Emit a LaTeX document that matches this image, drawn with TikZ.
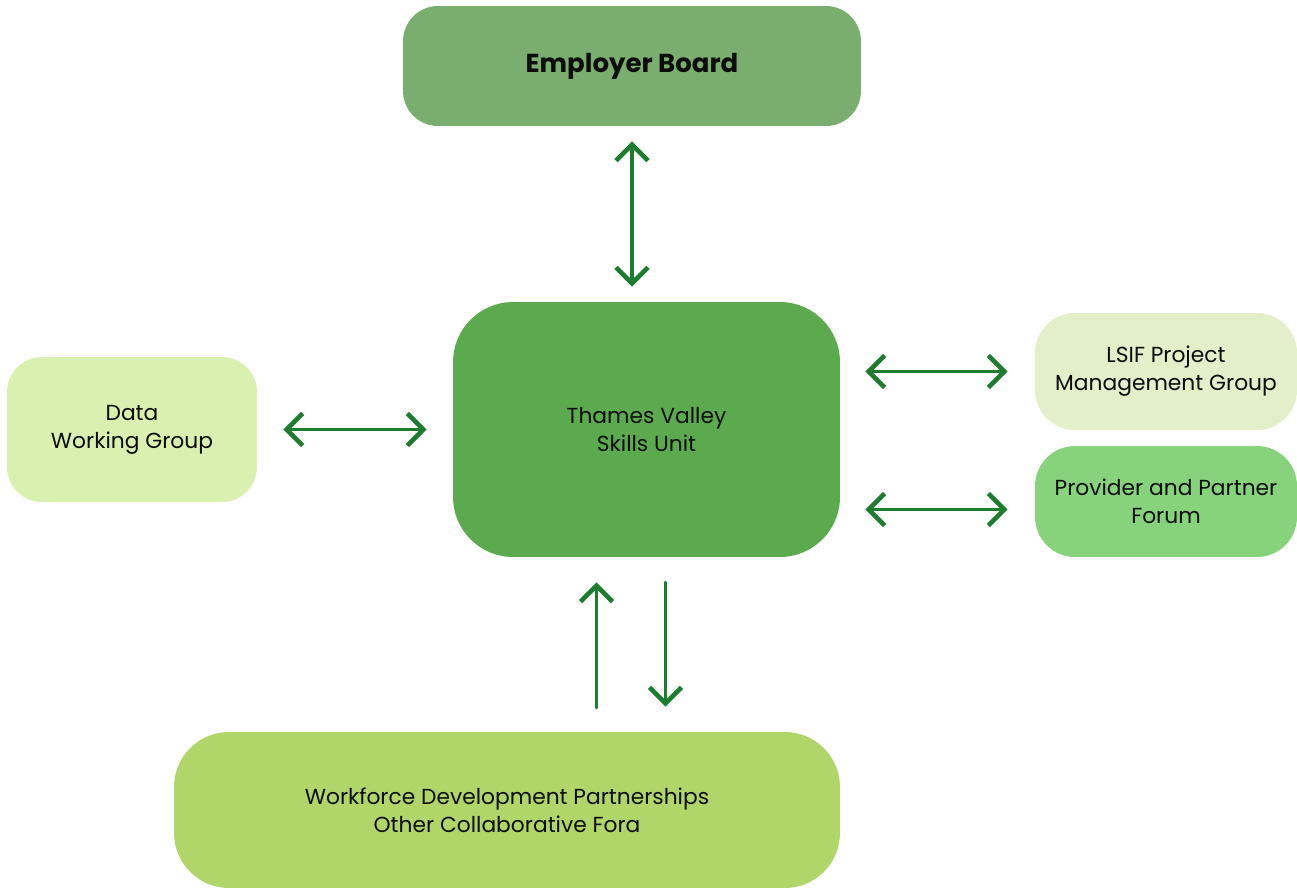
\documentclass[tikz,border=0pt]{standalone}
\usepackage{fontspec}
\setmainfont{Poppins}
\usetikzlibrary{arrows.meta}
\definecolor{boardgreen}{HTML}{79AE6F}
\definecolor{unitgreen}{HTML}{5BAA4E}
\definecolor{datagreen}{HTML}{D9F0B0}
\definecolor{lsifgreen}{HTML}{E2EFC9}
\definecolor{forumgreen}{HTML}{87D37C}
\definecolor{wdpgreen}{HTML}{B0D66A}
\definecolor{arrowgreen}{HTML}{1C7D2E}

\begin{document}
\begin{tikzpicture}[x=0.02cm,y=-0.02cm,
  box/.style={rounded corners=#1, align=center, inner sep=0pt, text=black!95,
    font=\fontsize{12.4}{16}\selectfont},
  box/.default=0.7cm,
  >={Straight Barb[length=3.2mm,width=6.4mm,line width=2.6pt]},
  link/.style={draw=arrowgreen, line width=2pt, line cap=round}]
\useasboundingbox (0,0) rectangle (1297,889);
% boxes
\node[box, fill=boardgreen, minimum width=9.16cm, minimum height=2.4cm,
  font=\fontsize{14.8}{16}\selectfont\bfseries] (board) at (632,66) {Employer Board};
\node[box=1.2cm, fill=unitgreen, minimum width=7.74cm, minimum height=5.1cm] (tvsu) at (646.5,429.5) {Thames Valley\\ Skills Unit};
\node[box, fill=datagreen, minimum width=5cm, minimum height=2.9cm] (dwg) at (132,429.5) {Data\\ Working Group};
\node[box=0.8cm, fill=lsifgreen, minimum width=5.24cm, minimum height=2.34cm] (lsif) at (1166,371.5) {LSIF Project\\ Management Group};
\node[box=0.8cm, fill=forumgreen, minimum width=5.24cm, minimum height=2.22cm] (ppf) at (1166,501.5) {Provider and Partner\\ Forum};
\node[box=1.1cm, fill=wdpgreen, minimum width=13.32cm, minimum height=3.12cm] (wdp) at (507,810) {Workforce Development Partnerships\\ Other Collaborative Fora};
% arrows
\draw[link, <->, shorten <=0.3cm, shorten >=0.3cm] (board.south) -- (board.south |- tvsu.north);
\draw[link, <->, shorten <=0.52cm, shorten >=0.52cm] (dwg.east) -- (tvsu.west);
\draw[link, <->, shorten <=0.5cm, shorten >=0.54cm] (tvsu.east |- lsif.west) -- (lsif.west);
\draw[link, <->, shorten <=0.5cm, shorten >=0.54cm] ([yshift=-0.16cm]tvsu.east |- ppf.west) -- ([yshift=-0.16cm]ppf.west);
\draw[link, ->, shorten <=0.48cm, shorten >=0.5cm] ([xshift=-1cm]tvsu.south |- wdp.north) -- ([xshift=-1cm]tvsu.south);
\draw[link, ->, shorten <=0.5cm, shorten >=0.5cm] ([xshift=0.38cm]tvsu.south) -- ([xshift=0.38cm]tvsu.south |- wdp.north);
\end{tikzpicture}
\end{document}
